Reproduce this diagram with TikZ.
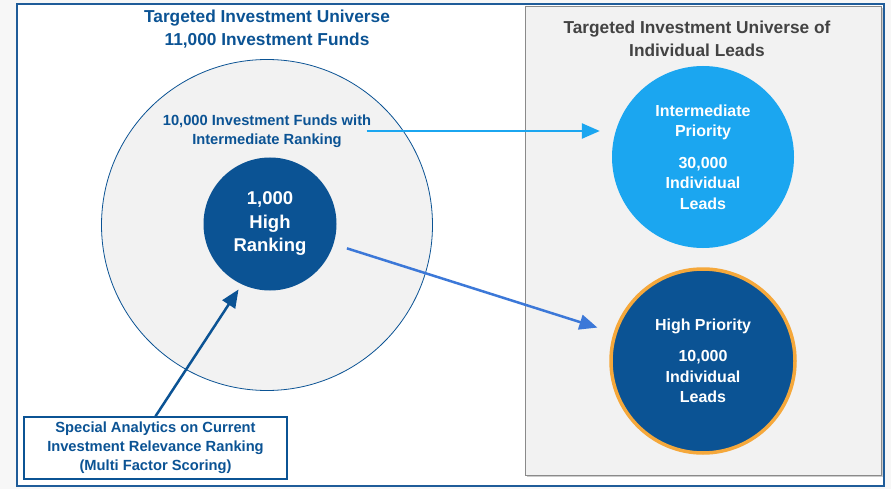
\documentclass[tikz,border=0pt]{standalone}
\usepackage{fontspec}
\setmainfont{Liberation Sans}
\usetikzlibrary{arrows.meta,shadows}

\definecolor{dblue}{HTML}{0B5394}
\definecolor{lblue}{HTML}{1BA6F0}
\definecolor{mblue}{HTML}{3C78D8}
\definecolor{frameblue}{HTML}{1F5C99}
\definecolor{panelgray}{HTML}{F2F2F2}
\definecolor{edgegray}{HTML}{8A8A8A}
\definecolor{titlegray}{HTML}{434343}
\definecolor{ringorange}{HTML}{F5A83B}

\begin{document}
\begin{tikzpicture}[
    x=1pt, y=-1pt,
    heading/.style={font=\bfseries\fontsize{17.3}{23}\selectfont, align=center},
    label/.style={font=\bfseries\fontsize{14.7}{19}\selectfont, text=dblue, align=center},
    ball/.style={circle, inner sep=0pt, align=center, text=white, font=\bfseries\fontsize{16}{20.5}\selectfont},
    arrow/.style={-{Triangle[length=18pt, width=15pt]}, line width=2.5pt}
]
    \useasboundingbox (0,0) rectangle (891,489);
    \fill[black!3] (0,0) rectangle (891,489);

    % Frame
    \draw[frameblue, line width=2pt, fill=white] (17,4) rectangle (884,486);

    % Leads panel
    \node[draw=edgegray, line width=1pt, fill=panelgray, minimum width=356pt, minimum height=468pt,
          drop shadow={shadow xshift=1.5pt, shadow yshift=-1.5pt, opacity=.4}] (panel) at (703,241) {};

    % Titles
    \node[heading, text=dblue] (fundtitle) at (267,29) {Targeted Investment Universe\\11,000 Investment Funds};
    \node[heading, text=titlegray] (leadtitle) at (697,39) {Targeted Investment Universe of\\Individual Leads};

    % Fund universe
    \node[circle, draw=dblue, line width=0.8pt, fill=panelgray, minimum size=331pt, inner sep=0pt] (universe) at (267,225) {};
    \node[label] (fundtxt) at (267,131) {10,000 Investment Funds with\\Intermediate Ranking};
    \node[ball, fill=dblue, minimum size=133pt, font=\bfseries\fontsize{18.5}{23.5}\selectfont] (inner) at (270,224) {1,000\\High\\Ranking};

    % Lead circles
    \node[ball, fill=lblue, minimum size=182pt] (inter) at (703,157) {Intermediate\\Priority\\[11pt]30,000\\Individual\\Leads};
    \node[ball, fill=dblue, draw=ringorange, line width=3.5pt, minimum size=184pt] (high) at (703,361) {High Priority\\[11pt]10,000\\Individual\\Leads};

    % Analytics note
    \node[label, draw=dblue, line width=1.5pt, fill=white, minimum width=263pt, minimum height=62pt] (note) at (155.5,448) {Special Analytics on Current\\Investment Relevance Ranking\\(Multi Factor Scoring)};

    % Arrows
    \draw[arrow, lblue, shorten <=-8pt, shorten >=12pt] (fundtxt.east) -- (fundtxt.east -| inter.west);
    \draw[arrow, mblue, shorten <=14pt, shorten >=17pt] (inner) -- (high);
    \draw[arrow, dblue, shorten >=6pt] (note.north) -- (inner.245);

\end{tikzpicture}
\end{document}
